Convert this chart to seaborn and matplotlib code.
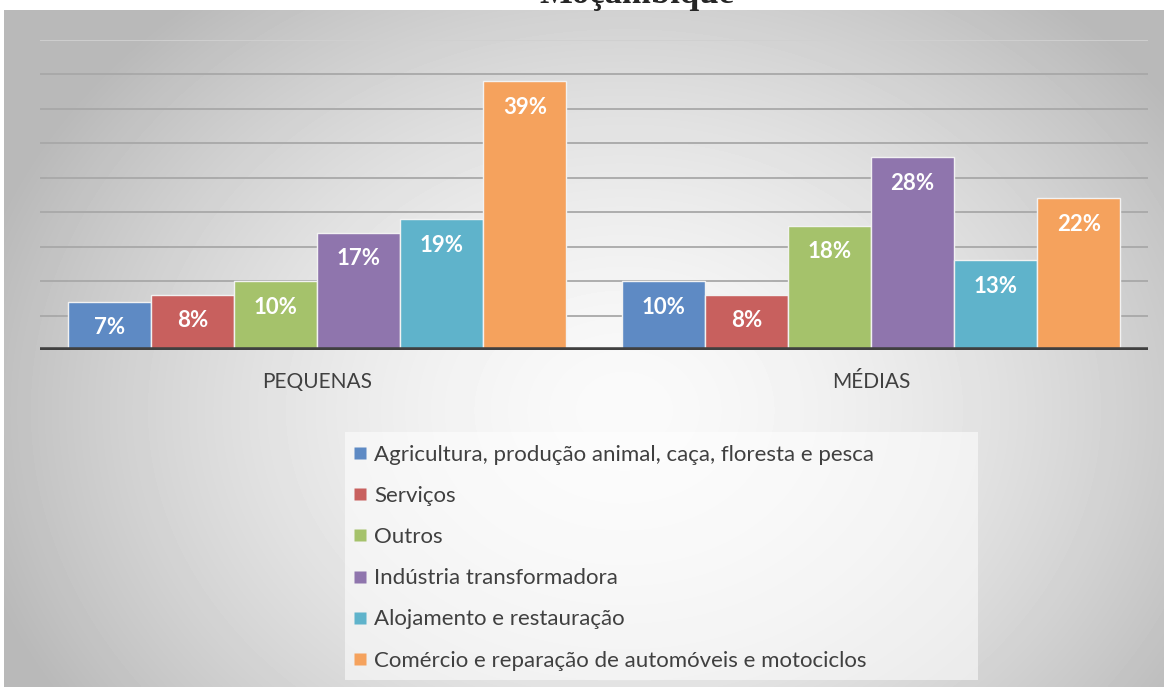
import numpy as np
import pandas as pd
import seaborn as sns
import matplotlib.pyplot as plt
from matplotlib.lines import Line2D
from matplotlib.patches import Rectangle

# data
sizes = ['PEQUENAS', 'MÉDIAS']
sectors = ['Agricultura, produção animal, caça, floresta e pesca',
           'Serviços',
           'Outros',
           'Indústria transformadora',
           'Alojamento e restauração',
           'Comércio e reparação de automóveis e motociclos']
pequenas = [7, 8, 10, 17, 19, 39]
medias = [10, 8, 18, 28, 13, 22]
colors = ['#5e8ac4', '#c8605e', '#a5c26b', '#8f75ad', '#5fb3cb', '#f5a25d']

df = pd.DataFrame({
    'size': [sizes[0]] * len(sectors) + [sizes[1]] * len(sectors),
    'sector': sectors + sectors,
    'value': pequenas + medias,
})

sns.set_style('white')
plt.rcParams['font.family'] = ['Lato', 'DejaVu Sans']

W, H = 1164, 687
fig = plt.figure(figsize=(W / 100, H / 100), dpi=100)

# radial gradient background
bg = fig.add_axes([4 / W, 0, 1 - 4 / W, (H - 10) / H])
yy, xx = np.mgrid[0:677, 0:1160]
r = np.sqrt(((xx - 620) / 700) ** 2 + ((yy - 400) / 560) ** 2)
grad = np.clip(250 - 70 * r ** 1.6, 185, 252) / 255
bg.imshow(grad, cmap='gray', vmin=0, vmax=1, aspect='auto')
bg.axis('off')

# main axes
ax = fig.add_axes([40 / W, (H - 350) / H, 1108 / W, 310 / H])
ax.patch.set_alpha(0)
for y in range(5, 50, 5):
    ax.axhline(y, color='#a8a8a8' if y < 45 else '#d0d0d0', lw=1.3, zorder=0)

sns.barplot(data=df, x='size', y='value', hue='sector', palette=colors,
            saturation=1, width=0.9, ax=ax, legend=False,
            edgecolor='#f2f2f2', linewidth=1, zorder=2)
ax.set_ylim(0, 45)
ax.set_xlim(-0.5, 1.5)
ax.axhline(0, color='#404040', lw=4, zorder=3)
for s in ax.spines.values():
    s.set_visible(False)
ax.set_yticks([])
ax.set_xlabel('')
ax.set_ylabel('')
ax.tick_params(axis='x', length=0, pad=16, labelsize=15, labelcolor='#404040')

for cont in ax.containers:
    for bar in cont:
        h = bar.get_height()
        ax.annotate(f'{h:.0f}%', (bar.get_x() + bar.get_width() / 2, h),
                    xytext=(0, -26), textcoords='offset pixels',
                    ha='center', va='center', color='white',
                    fontsize=16, fontweight='bold', zorder=4)

# title (cropped at top in the reference)
fig.text(637 / W, (H - 3) / H, 'Moçambique', ha='center', va='baseline',
         fontsize=25, fontweight='bold', family='Liberation Serif')

# legend box
fig.patches.append(Rectangle((345 / W, 7 / H), 633 / W, 248 / H,
                             transform=fig.transFigure, facecolor='white',
                             alpha=0.55, edgecolor='none', zorder=1))
handles = [Line2D([], [], marker='s', ls='none', markersize=9,
                  markerfacecolor=c, markeredgecolor='none') for c in colors]
fig.legend(handles, sectors, loc='upper left',
           bbox_to_anchor=(352 / W, (H - 445) / H), frameon=False,
           fontsize=16, labelcolor='#404040', handlelength=0.7,
           handletextpad=0.3, labelspacing=0.95, borderpad=0,
           borderaxespad=0)

fig.savefig('out.png', dpi=100)
